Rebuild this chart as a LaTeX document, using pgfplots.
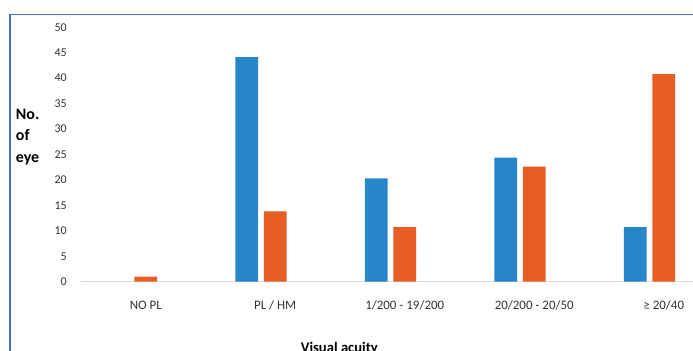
\documentclass[border=0pt]{standalone}
\usepackage{pgfplots}
\pgfplotsset{compat=1.18}
\usepackage{fontspec}
\setmainfont{Carlito}
\definecolor{barblue}{HTML}{2686C8}
\definecolor{barorange}{HTML}{E85D24}
\definecolor{framec}{HTML}{4472C4}
\definecolor{txt}{HTML}{333333}
\definecolor{axc}{HTML}{D9D9D9}
\begin{document}
\begin{tikzpicture}
\path[use as bounding box] (0bp,0bp) rectangle (693bp,351bp);
\clip (0bp,0bp) rectangle (693bp,351bp);
\draw[framec, line width=1.3bp] (10bp,-5bp) -- (10bp,336.5bp) -- (700bp,336.5bp);
\begin{axis}[
  at={(81bp,69.3bp)}, anchor=south west,
  x=129.5bp, y=5.09bp,
  xmin=-0.5, xmax=4.25, ymin=0, ymax=50,
  axis x line*=bottom, axis y line*=left,
  x axis line style={draw=axc, line width=0.8bp},
  y axis line style={draw=none},
  major tick length=0pt, tick style={draw=none},
  ytick={0,5,...,50},
  xtick={0,1,2,3,4},
  xticklabels={NO PL, PL / HM, 1/200 - 19/200, 20/200 - 20/50, ≥ 20/40},
  /pgf/number format/assume math mode=true,
  yticklabel style={font=\fontsize{12}{14}\selectfont, text=txt, inner sep=0pt, xshift=-14bp},
  xticklabel style={font=\fontsize{13}{15}\selectfont, text=txt, inner sep=0pt, yshift=-19bp},
  ylabel={No.\\of\\eye},
  ylabel style={rotate=-90, anchor=west, align=left, font=\fontsize{16}{21.5}\selectfont\bfseries, text=black, inner sep=0pt, at={(axis description cs:-0.106,0.569)}},
  xlabel={Visual acuity},
  xlabel style={font=\fontsize{14.7}{17}\selectfont\bfseries, text=black, inner sep=0pt, anchor=north, at={(axis description cs:0.42,0)}, yshift=-60bp},
  ybar, bar width=22.6bp,
  clip=false,
]
\addplot[fill=barblue, draw=none, bar shift=0pt] coordinates {(0.78,44.1) (1.78,20.3) (2.78,24.4) (3.78,10.7)};
\addplot[fill=barorange, draw=none, bar shift=0pt] coordinates {(0,1) (1,13.8) (2,10.7) (3,22.6) (4,40.8)};
\end{axis}
\end{tikzpicture}
\end{document}
